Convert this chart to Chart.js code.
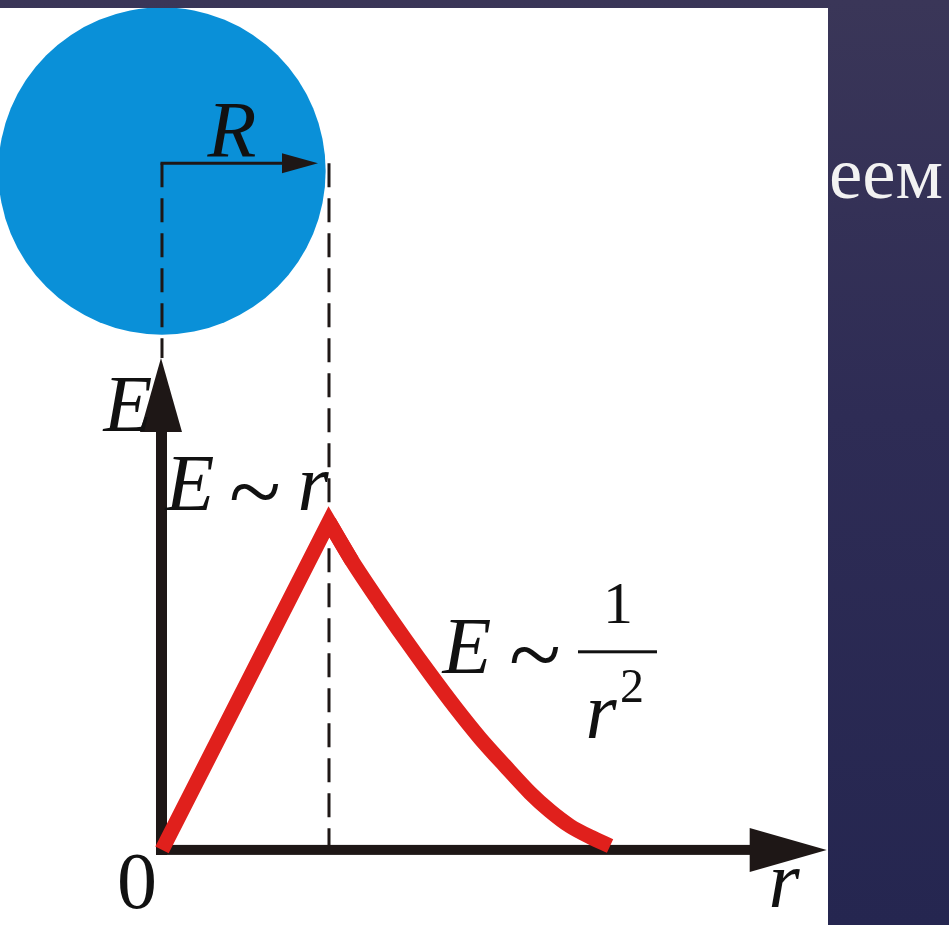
<!DOCTYPE html>
<html>
<head>
<meta charset="utf-8">
<script src="https://cdn.jsdelivr.net/npm/chart.js@4/dist/chart.umd.min.js"></script>
<style>
  html, body { margin: 0; padding: 0; width: 949px; height: 925px; overflow: hidden; }
  body { background: linear-gradient(180deg, #3a3658 0%, #2e2c55 45%, #252650 100%); position: relative; }
  #panel { position: absolute; left: 0; top: 8px; width: 828px; height: 917px; background: #ffffff; }
  #slideText { position: absolute; left: 829px; top: 135px; font-family: "Liberation Serif", serif; font-size: 75px; line-height: 75px; color: #f2f2f2; white-space: nowrap; }
  canvas { display: block; }
</style>
</head>
<body>
<div id="slideText">еем</div>
<div id="panel"><canvas id="c" width="828" height="917"></canvas></div>
<script>
// ---- data (r in units of R, E in units of E(R)) ----
const insideR  = [0, 1, 1.138];
const insideE  = [0, 1, 0.881];
const outsideR = [1, 1.138, 1.305, 1.455, 1.605, 1.754, 1.904, 2.054, 2.204, 2.323, 2.443, 2.563, 2.683];
const outsideE = [1, 0.881, 0.753, 0.643, 0.537, 0.436, 0.341, 0.256, 0.174, 0.119, 0.073, 0.040, 0.012];

// axis ranges
const X_MIN = -0.970, X_MAX = 3.988;
const Y_MIN = -0.229, Y_MAX = 2.567;

// axis extents (data units)
const xAxisEnd = 3.98;
const yAxisEnd = 1.50;
const sphereCenterE = 2.07;
const sphereRadius = 0.98;
const radiusArrowE = 2.094;
const radiusArrowEnd = 0.934;

const toPts = (xs, ys) => xs.map((x, i) => ({ x: x, y: ys[i] }));

const RED = '#e0201c';
const BLACK = '#1e1716';
const BLUE = '#0a90d8';

const sketch = {
  id: 'sketch',
  beforeDatasetsDraw(chart) {
    const ctx = chart.ctx;
    const xs = chart.scales.x, ys = chart.scales.y;
    const px = v => xs.getPixelForValue(v), py = v => ys.getPixelForValue(v);
    ctx.save();
    // sphere
    const cx = px(0), cy = py(sphereCenterE);
    const rad = px(sphereRadius) - px(0);
    ctx.fillStyle = BLUE;
    ctx.beginPath(); ctx.arc(cx, cy, rad, 0, Math.PI * 2); ctx.fill();

    // dashed lines
    ctx.strokeStyle = BLACK; ctx.lineWidth = 3; ctx.setLineDash([24, 11]);
    ctx.beginPath(); ctx.moveTo(px(0), py(radiusArrowE)); ctx.lineTo(px(0), py(yAxisEnd)); ctx.stroke();
    ctx.beginPath(); ctx.moveTo(px(1), py(radiusArrowE)); ctx.lineTo(px(1), py(0)); ctx.stroke();
    ctx.setLineDash([]);

    // radius arrow
    const ay = py(radiusArrowE);
    const tipX = px(radiusArrowEnd);
    ctx.lineWidth = 3;
    ctx.beginPath(); ctx.moveTo(px(0) - 1.5, ay); ctx.lineTo(tipX - 30, ay); ctx.stroke();
    ctx.fillStyle = BLACK;
    ctx.beginPath(); ctx.moveTo(tipX, ay); ctx.lineTo(tipX - 36, ay - 10); ctx.lineTo(tipX - 36, ay + 10); ctx.closePath(); ctx.fill();

    // x axis
    const ox = px(0), oy = py(0);
    const xTip = px(xAxisEnd);
    ctx.fillRect(ox - 6, oy - 5, (xTip - 76) - (ox - 6), 10);
    ctx.beginPath(); ctx.moveTo(xTip, oy); ctx.lineTo(xTip - 77, oy - 22); ctx.lineTo(xTip - 77, oy + 22); ctx.closePath(); ctx.fill();

    // y axis
    const yTip = py(yAxisEnd);
    ctx.fillRect(ox - 6, yTip + 72, 11, (oy + 5) - (yTip + 72));
    ctx.beginPath(); ctx.moveTo(ox - 1, yTip); ctx.lineTo(ox - 22, yTip + 74); ctx.lineTo(ox + 20, yTip + 74); ctx.closePath(); ctx.fill();
    ctx.restore();
  },
  afterDatasetsDraw(chart) {
    const ctx = chart.ctx;
    const xs = chart.scales.x, ys = chart.scales.y;
    const px = v => xs.getPixelForValue(v), py = v => ys.getPixelForValue(v);
    ctx.save();
    ctx.fillStyle = '#111111';
    ctx.textBaseline = 'alphabetic';
    const it = s => 'italic ' + s + 'px "Liberation Serif", "Times New Roman", serif';
    const up = s => s + 'px "Liberation Serif", "Times New Roman", serif';
    const put = (t, x, y, font, align) => { ctx.font = font; ctx.textAlign = align; ctx.fillText(t, px(x), py(y)); };

    put('R', 0.419, 2.113, it(80), 'center');
    put('E', -0.204, 1.277, it(80), 'center');
    // E ~ r
    put('E', 0.168, 1.037, it(80), 'center');
    put('~', 0.557, 0.997, up(96), 'center');
    put('r', 0.904, 1.037, it(80), 'center');
    // E ~ 1/r^2
    put('E', 1.826, 0.540, it(80), 'center');
    put('~', 2.234, 0.500, up(96), 'center');
    ctx.fillRect(px(2.491), py(0.604) - 1.5, px(2.964) - px(2.491), 3);
    put('1', 2.731, 0.692, up(60), 'center');
    put('r', 2.629, 0.341, it(80), 'center');
    put('2', 2.814, 0.451, up(48), 'center');
    // axis labels
    put('0', -0.150, -0.177, up(80), 'center');
    put('r', 3.725, -0.174, it(80), 'center');
    ctx.restore();
  }
};

new Chart(document.getElementById('c'), {
  type: 'line',
  data: {
    datasets: [
      { data: toPts(insideR, insideE), borderColor: RED, borderWidth: 15, tension: 0,
        pointRadius: 0, borderCapStyle: 'butt', borderJoinStyle: 'miter', fill: false },
      { data: toPts(outsideR, outsideE), borderColor: RED, borderWidth: 15, tension: 0.3,
        pointRadius: 0, borderCapStyle: 'butt', borderJoinStyle: 'round', fill: false }
    ]
  },
  options: {
    responsive: false,
    animation: false,
    devicePixelRatio: 1,
    layout: { padding: 0 },
    plugins: { legend: { display: false }, tooltip: { enabled: false } },
    scales: {
      x: { type: 'linear', min: X_MIN, max: X_MAX, display: false },
      y: { type: 'linear', min: Y_MIN, max: Y_MAX, display: false }
    }
  },
  plugins: [sketch]
});
</script>
</body>
</html>
